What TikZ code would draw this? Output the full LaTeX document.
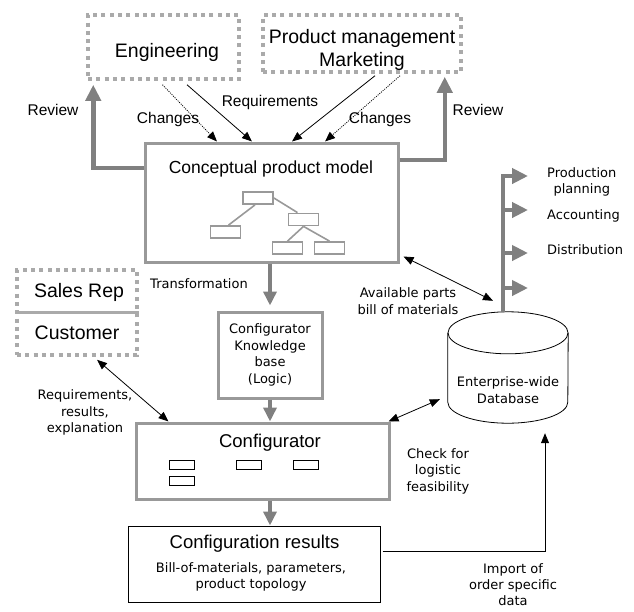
\documentclass[tikz,border=0pt]{standalone}
\usepackage{fontspec}
\setmainfont{Liberation Sans}
\newfontfamily\smallfont{DejaVu Sans}
\usetikzlibrary{arrows.meta}
\definecolor{boxgray}{HTML}{999999}
\definecolor{arrowgray}{HTML}{808080}
\definecolor{dotgray}{HTML}{AAAAAA}

\begin{document}
\begin{tikzpicture}[x=1pt, y=-1pt,
    party/.style={draw=dotgray, line width=3.5pt, dash pattern=on 4pt off 4.3pt, inner sep=0pt},
    stage/.style={draw=boxgray, line width=3pt, inner sep=0pt},
    result/.style={draw, line width=1pt, inner sep=0pt},
    treebox/.style={draw=boxgray, line width=1.8pt, minimum width=30pt, minimum height=12pt, inner sep=0pt},
    branch/.style={draw=boxgray, line width=1.6pt},
    slot/.style={draw, line width=0.8pt, minimum width=25pt, minimum height=8.5pt, inner sep=0pt},
    flow/.style={draw=arrowgray, line width=4.5pt, -{Triangle[length=16pt,width=15pt]}},
    pass/.style={draw=arrowgray, line width=4.5pt, -{Triangle[length=14pt,width=13pt]}},
    link/.style={line width=0.8pt, -{Triangle[length=10pt,width=8pt]}},
    both/.style={line width=0.8pt, {Triangle[length=10pt,width=8pt]}-{Triangle[length=10pt,width=8pt]}},
    change/.style={link, dash pattern=on 1pt off 1.2pt},
    big/.style={font=\fontsize{19.5pt}{23pt}\selectfont},
    mid/.style={font=\fontsize{17.5pt}{21pt}\selectfont},
    head/.style={font=\fontsize{18.5pt}{22pt}\selectfont},
    lbl/.style={font=\fontsize{15.5pt}{18pt}\selectfont},
    small/.style={font=\smallfont\fontsize{13pt}{16.5pt}\selectfont, align=center, inner sep=0pt}
]
    \useasboundingbox (0,0) rectangle (634,611);

    % groups at the top
    \node[party, minimum width=151pt, minimum height=64pt] (eng) at (163.5,47) {};
    \node[big] (engname) at (167,52) {Engineering};
    \node[party, minimum width=198pt, minimum height=57pt] (pm) at (362,43.5) {};
    \node[big, align=center] (pmname) at (362,49.5) {Product management\\Marketing};

    % conceptual product model with its tree
    \node[stage, minimum width=253pt, minimum height=119pt] (cpm) at (271.5,202.5) {};
    \node[mid] (cpmtitle) at (271,169) {Conceptual product model};
    \node[treebox] (t1) at (258,198) {};
    \node[treebox] (t2) at (303.5,219.5) {};
    \node[treebox] (t3) at (225.5,232) {};
    \node[treebox] (t4) at (287.5,248) {};
    \node[treebox] (t5) at (329.5,248) {};
    \draw[branch] ([xshift=-3]t1.south) -- ([xshift=3]t3.north);
    \draw[branch] (t1.east) -- ([xshift=-6]t2.north);
    \draw[branch] (t2.south) -- (t4.north);
    \draw[branch] (t2.south) -- (t5.north);

    % review and change loops
    \draw[flow] (cpm.west |- 0,168) -| ([shift={(7,4)}]eng.south west);
    \node[lbl] (revl) at (53,110) {Review};
    \draw[flow] (cpm.east |- 0,160) -| ([shift={(-18,3)}]pm.south east);
    \node[lbl] (revr) at (478,110) {Review};
    \draw[change] ([shift={(-1,4)}]eng.south) -- ([xshift=-54.5]cpm.north);
    \draw[link] ([shift={(23.5,4)}]eng.south) -- ([xshift=-19.5]cpm.north);
    \draw[link] ([shift={(13,2)}]pm.south) -- ([xshift=20.5]cpm.north);
    \draw[change] ([shift={(38,2)}]pm.south) -- ([xshift=53.5]cpm.north);
    \node[lbl] (chl) at (168,119) {Changes};
    \node[lbl] (req) at (270,102) {Requirements};
    \node[lbl] (chr) at (380,119) {Changes};

    % knowledge base, configurator, results
    \node[stage, small, minimum width=104pt, minimum height=86pt] (kb) at (270,355) {Configurator\\Knowledge\\base\\(Logic)};
    \node[stage, minimum width=253pt, minimum height=76pt] (conf) at (262.5,461) {};
    \node[head] (conftitle) at (270,443) {Configurator};
    \node[slot] (s1) at (181.5,465) {};
    \node[slot] (s2) at (248.5,465) {};
    \node[slot] (s3) at (306,465) {};
    \node[slot] (s4) at (181.5,481) {};
    \node[result, minimum width=252pt, minimum height=76pt] (res) at (254,564) {};
    \node[head] (restitle) at (254.5,544) {Configuration results};
    \node[small] (resdetail) at (251,577) {Bill-of-materials, parameters,\\product topology};

    \draw[pass] (cpm.south -| kb.north) -- ([yshift=5]kb.north);
    \node[small] (trans) at (199,284) {Transformation};
    \draw[pass] (kb.south) -- (kb.south |- conf.north);
    \draw[pass] (conf.south -| kb.south) -- (kb.south |- res.north);

    % sales rep / customer
    \node[party, minimum width=120pt, minimum height=85pt] (sales) at (77,312.5) {};
    \draw[draw=dotgray, line width=3.5pt] (sales.west) -- (sales.east);
    \node[big] (rep) at (79,292) {Sales Rep};
    \node[big] (cust) at (77,333) {Customer};
    \draw[both] ([shift={(20,3)}]sales.south) -- ([xshift=34]conf.north west);
    \node[small] (reqres) at (85,412.5) {Requirements,\\results,\\explanation};

    % database
    \node[minimum width=120pt, minimum height=111pt, inner sep=0pt] (db) at (508,367.5) {};
    \draw[line width=0.8pt] ([yshift=-21]db.north) ellipse [x radius=60pt, y radius=21pt];
    \draw[line width=0.8pt] ([yshift=-21]db.north west) -- ([yshift=21]db.south west)
        arc[start angle=180, end angle=360, x radius=60pt, y radius=21pt] -- ([yshift=-21]db.north east);
    \node[small] (dbname) at (508,390) {Enterprise-wide\\Database};

    \draw[both] ([shift={(4,-7)}]cpm.south east) -- ([shift={(-15,-11)}]db.north);
    \node[small] (parts) at (408,301) {Available parts\\bill of materials};
    \draw[both] ([shift={(-8,-24)}]db.south west) -- ([xshift=-2]conf.north east);
    \node[small] (check) at (438,471) {Check for\\logistic\\feasibility};
    \draw[link] ([shift={(2,-13)}]res.east) -| ([shift={(37,10)}]db.south);
    \node[small, font=\smallfont\fontsize{13pt}{16pt}\selectfont] (import) at (513,585) {Import of\\order specific\\data};

    % outputs of the database
    \coordinate (trunk) at (503,176);
    \draw[flow] ([xshift=-5]db.north) |- ([xshift=25]trunk);
    \foreach \y in {210,253,288}
        \draw[flow] (trunk |- 0,\y) -- ++(25,0);
    \node[small, anchor=west] (plan) at (547,182) {Production\\planning};
    \node[small, anchor=west] (acct) at (547,216) {Accounting};
    \node[small, anchor=west] (dist) at (547,250) {Distribution};
\end{tikzpicture}
\end{document}
